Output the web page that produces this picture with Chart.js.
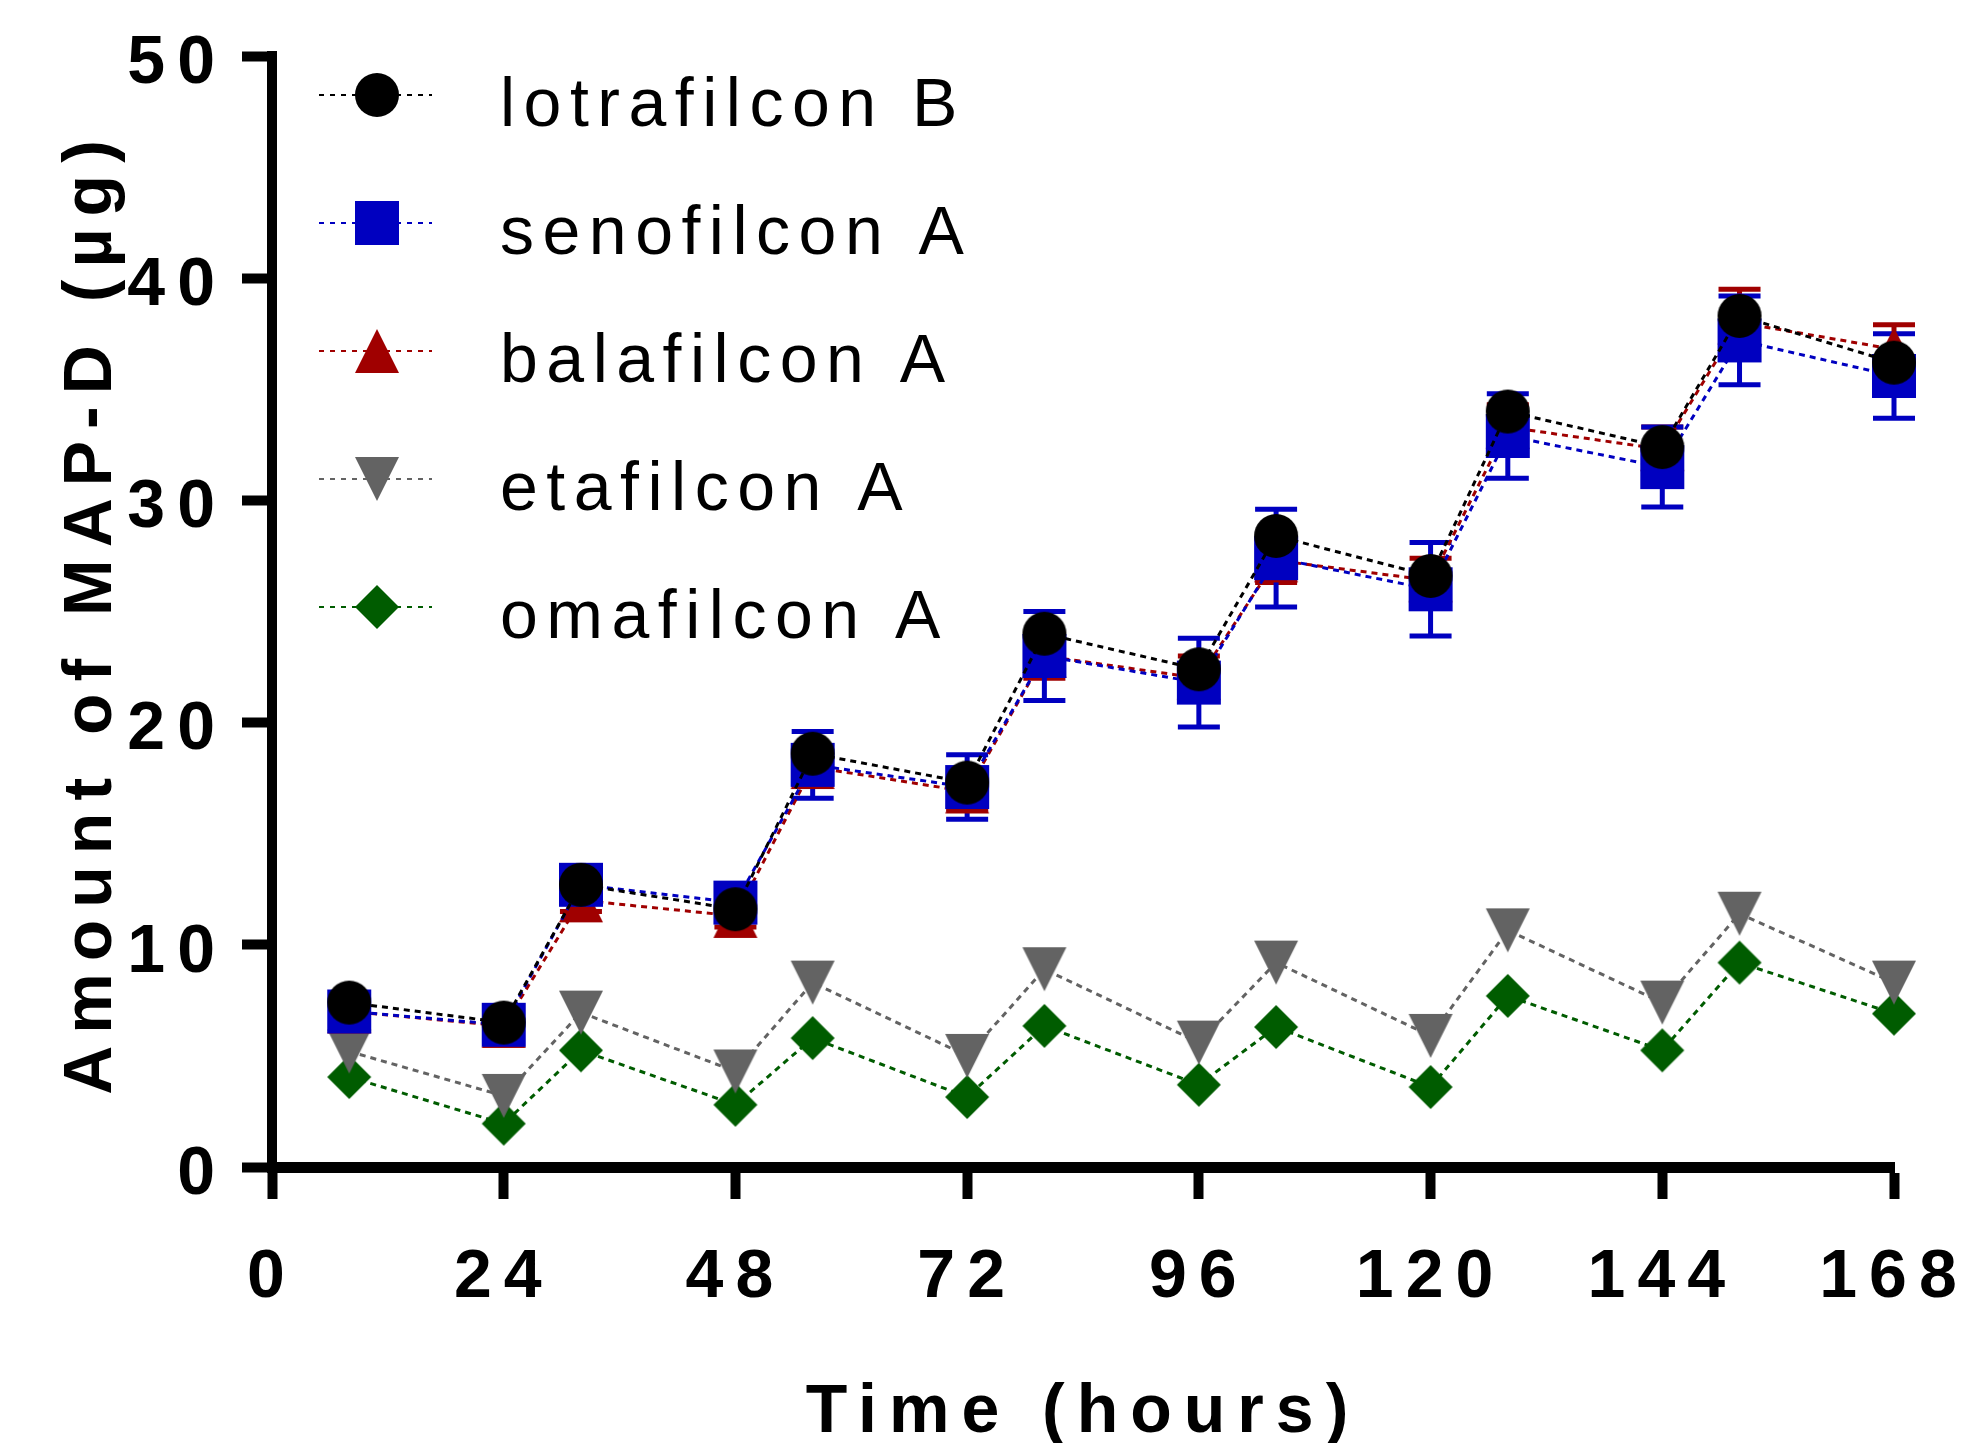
<!DOCTYPE html>
<html>
<head>
<meta charset="utf-8">
<script src="https://cdn.jsdelivr.net/npm/chart.js@4.4.1/dist/chart.umd.min.js"></script>
<style>
  html, body { margin: 0; padding: 0; background: #fff; }
  canvas { display: block; }
</style>
</head>
<body>
<canvas id="releaseChart" width="1963" height="1443"></canvas>
<script>
// sampling times (hours)
const hours = [8, 24, 32, 48, 56, 72, 80, 96, 104, 120, 128, 144, 152, 168];

// amount of MAP-D released (µg)
const lotrafilconB = [7.4, 6.5, 12.7, 11.6, 18.6, 17.3, 24.0, 22.4, 28.4, 26.6, 34.0, 32.4, 38.3, 36.2];
const senofilconA = [7.0, 6.4, 12.7, 11.9, 18.1, 17.1, 23.0, 21.8, 27.4, 26.0, 32.9, 31.5, 37.2, 35.6];
const balafilconA = [7.0, 6.35, 12.0, 11.3, 18.0, 16.9, 23.0, 22.0, 27.3, 26.4, 33.3, 32.3, 38.0, 36.8];
const etafilconA = [5.2, 3.2, 6.95, 4.3, 8.3, 5.0, 8.9, 5.6, 9.2, 5.9, 10.65, 7.4, 11.4, 8.3];
const omafilconA = [4.05, 1.95, 5.25, 2.8, 5.8, 3.15, 6.35, 3.7, 6.3, 3.6, 7.7, 5.25, 9.2, 6.9];

// standard deviations (only where visible)
const senofilconErr = [0.5, 0.5, 0.6, 0.6, 1.5, 1.45, 2.0, 2.0, 2.2, 2.1, 1.9, 1.8, 2.0, 1.9];
const balafilconErr = [0.5, 0.5, 0.5, 0.5, 0.8, 0.8, 1.0, 1.0, 1.0, 1.0, 1.0, 1.0, 1.5, 1.1];

const xTicks = [0, 24, 48, 72, 96, 120, 144, 168];
const yTicks = [0, 10, 20, 30, 40, 50];

const boldFont = { family: '"Liberation Sans", Arial, sans-serif', weight: 'bold', size: 68 };

function makeMarker(shape, color) {
  const s = 44, m = 1;
  const c = document.createElement('canvas');
  c.width = s + 2 * m;
  c.height = s + 2 * m;
  const g = c.getContext('2d');
  g.fillStyle = color;
  g.beginPath();
  if (shape === 'circle') {
    g.arc(m + s / 2, m + s / 2, s / 2, 0, Math.PI * 2);
  } else if (shape === 'square') {
    g.rect(m, m, s, s);
  } else if (shape === 'up') {
    g.moveTo(m + s / 2, m); g.lineTo(m + s, m + s); g.lineTo(m, m + s);
  } else if (shape === 'down') {
    g.moveTo(m, m); g.lineTo(m + s, m); g.lineTo(m + s / 2, m + s);
  } else {
    g.moveTo(m + s / 2, m); g.lineTo(m + s, m + s / 2); g.lineTo(m + s / 2, m + s); g.lineTo(m, m + s / 2);
  }
  g.closePath();
  g.fill();
  return c;
}

function series(label, values, errs, color, shape) {
  return {
    label: label,
    data: hours.map((h, i) => ({ x: h, y: values[i] })),
    yErr: errs,
    borderColor: color,
    backgroundColor: color,
    borderWidth: 3,
    borderDash: [6, 5],
    pointStyle: makeMarker(shape, color),
    pointRadius: 22,
    tension: 0,
    fill: false,
    clip: false
  };
}

const errorBars = {
  id: 'errorBars',
  beforeDatasetsDraw(chart) {
    const { ctx, scales: { x, y } } = chart;
    const sets = chart.data.datasets;
    for (let i = sets.length - 1; i >= 0; i--) {
      const ds = sets[i];
      if (!ds.yErr) continue;
      ctx.save();
      ctx.strokeStyle = ds.borderColor;
      ctx.lineWidth = 5;
      ds.data.forEach((p, j) => {
        const px = x.getPixelForValue(p.x);
        const top = y.getPixelForValue(p.y + ds.yErr[j]);
        const bot = y.getPixelForValue(p.y - ds.yErr[j]);
        ctx.beginPath();
        ctx.moveTo(px, top); ctx.lineTo(px, bot);
        ctx.moveTo(px - 21, top); ctx.lineTo(px + 21, top);
        ctx.moveTo(px - 21, bot); ctx.lineTo(px + 21, bot);
        ctx.stroke();
      });
      ctx.restore();
    }
  }
};

const insideLegend = {
  id: 'insideLegend',
  afterDatasetsDraw(chart) {
    const { ctx, chartArea } = chart;
    const x0 = chartArea.left;
    ctx.save();
    ctx.font = '68px "Liberation Sans", Arial, sans-serif';
    ctx.letterSpacing = '8.5px';
    ctx.textAlign = 'left';
    ctx.textBaseline = 'alphabetic';
    chart.data.datasets.forEach((ds, i) => {
      const yy = chartArea.top + 39 + i * 128;
      ctx.strokeStyle = ds.borderColor;
      ctx.lineWidth = 2;
      ctx.setLineDash([5, 6]);
      ctx.beginPath();
      ctx.moveTo(x0 + 47, yy);
      ctx.lineTo(x0 + 160, yy);
      ctx.stroke();
      ctx.setLineDash([]);
      const img = ds.pointStyle;
      ctx.drawImage(img, x0 + 105 - img.width / 2, yy - img.height / 2);
      ctx.fillStyle = '#000';
      ctx.fillText(ds.label, x0 + 228, yy + 31);
    });
    ctx.restore();
  }
};

// GraphPad-style spaced lettering for axis text
const spacedText = {
  id: 'spacedText',
  beforeDraw(chart) { chart.ctx.letterSpacing = '12px'; }
};

const chart = new Chart(document.getElementById('releaseChart').getContext('2d'), {
  type: 'line',
  data: {
    datasets: [
      series('lotrafilcon B', lotrafilconB, null, '#000000', 'circle'),
      series('senofilcon A', senofilconA, senofilconErr, '#0000c0', 'square'),
      series('balafilcon A', balafilconA, balafilconErr, '#a00000', 'up'),
      series('etafilcon A', etafilconA, null, '#636363', 'down'),
      series('omafilcon A', omafilconA, null, '#005c00', 'diamond')
    ]
  },
  options: {
    responsive: false,
    animation: false,
    devicePixelRatio: 1,
    layout: { padding: { top: 56, right: 69, bottom: 0, left: 0 } },
    plugins: {
      legend: { display: false },
      tooltip: { enabled: false }
    },
    scales: {
      x: {
        type: 'linear',
        min: xTicks[0],
        max: xTicks[xTicks.length - 1],
        afterFit: s => { s.height = 276; s.paddingLeft = 0; s.paddingRight = 0; },
        afterBuildTicks: s => { s.ticks = xTicks.map(v => ({ value: v })); },
        border: { display: true, color: '#000', width: 11 },
        grid: { drawOnChartArea: false, drawTicks: true, tickLength: 32, tickWidth: 10, tickColor: '#000' },
        ticks: { autoSkip: false, maxRotation: 0, padding: 38, color: '#000', font: boldFont },
        title: {
          display: true, text: 'Time (hours)', color: '#000',
          font: Object.assign({}, boldFont, { lineHeight: 1 }),
          padding: { top: 0, bottom: -4 }
        }
      },
      y: {
        min: yTicks[0],
        max: yTicks[yTicks.length - 1],
        afterFit: s => { s.width = 272; s.paddingTop = 0; s.paddingBottom = 0; },
        afterBuildTicks: s => { s.ticks = yTicks.map(v => ({ value: v })); },
        border: { display: true, color: '#000', width: 10 },
        grid: { drawOnChartArea: false, drawTicks: true, tickLength: 30, tickWidth: 10, tickColor: '#000' },
        ticks: { padding: 15, labelOffset: 8, color: '#000', font: boldFont },
        title: {
          display: true, text: 'Amount of MAP-D (µg)', color: '#000',
          font: Object.assign({}, boldFont, { lineHeight: 1 }),
          padding: { top: 58, bottom: 0 }
        }
      }
    }
  },
  plugins: [spacedText, errorBars, insideLegend]
});
</script>
</body>
</html>
